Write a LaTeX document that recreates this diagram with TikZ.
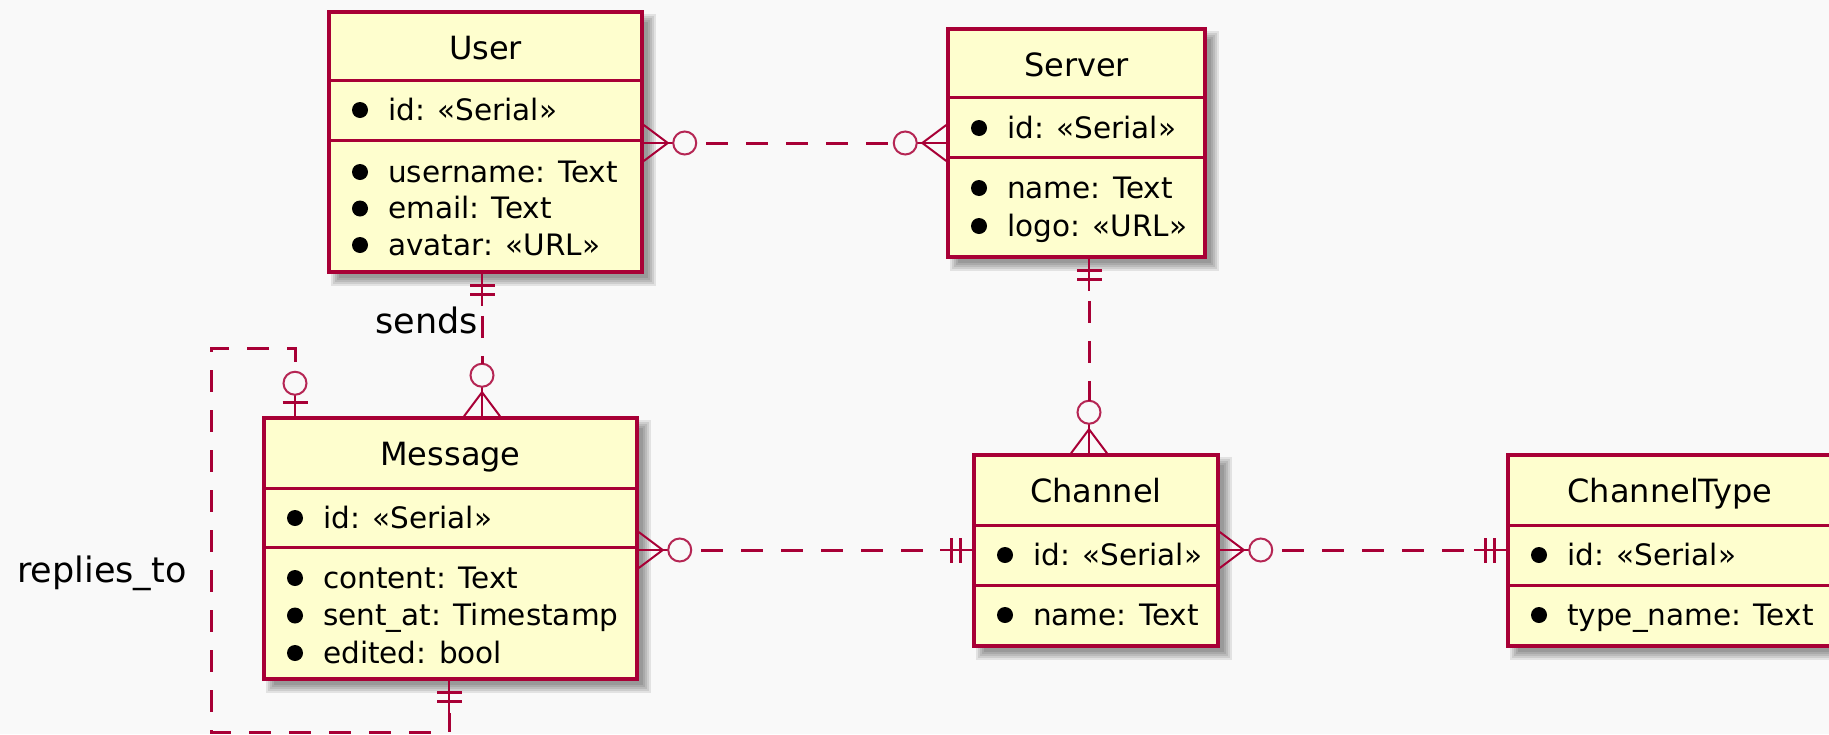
\documentclass[tikz,border=0pt]{standalone}
\usepackage{fontspec}
\setmainfont{DejaVu Sans}
\usetikzlibrary{calc}

\definecolor{erborder}{HTML}{A80036}
\definecolor{erfill}{HTML}{FEFECE}
\definecolor{erbg}{HTML}{F9F9F9}

\tikzset{
  box/.style={draw=erborder, fill=erfill, line width=3.5pt, inner sep=0pt},
  sep/.style={draw=erborder, line width=3pt},
  ttl/.style={anchor=base, inner sep=0pt, font=\fontsize{32}{38}\selectfont},
  row/.style={anchor=base west, inner sep=0pt, font=\fontsize{29.5}{37}\selectfont},
  lbl/.style={inner sep=0pt, font=\fontsize{35}{40}\selectfont},
  rel/.style={draw=erborder, line width=3pt, dash pattern=on 22pt off 18pt, dash phase=30pt},
  stub/.style={draw=erborder, line width=2.6pt},
  crow/.style={draw=erborder, line width=2pt},
  ring/.style={draw=erborder!85, line width=2pt},
  tick/.style={draw=erborder, line width=3pt},
}

% entity box: name, left, top, right, bottom, first separator, second separator, title
\newcommand\entity[8]{%
  \foreach \k in {-6,-4,-2,0,2}
    \fill[black, opacity=0.09] ({#2+8+\k},{#3+8+\k}) rectangle ({#4+8-\k},{#5+8-\k});
  \node[box, minimum width={(#4-#2)*1pt}, minimum height={(#5-#3)*1pt}]
    (#1) at ({(#2+#4)/2},{(#3+#5)/2}) {};
  \draw[sep] (#2,#6) -- (#4,#6);
  \draw[sep] (#2,#7) -- (#4,#7);
  \node[ttl] (#1-title) at ({(#2+#4)/2},{#3+47}) {#8};
}

% attribute line: node name, box left edge, baseline, text
\newcommand\attr[4]{%
  \fill ({#2+31},{#3-10}) circle (8pt);
  \node[row] (#1) at ({#2+59},#3) {#4};
}

% relation ends; #1 point on the box edge, #2 outward angle, #3 name of the outer end
\newcommand\zeromany[3]{%
  \begin{scope}[shift={#1}, rotate=#2]
    \draw[stub] (0,0) -- (29.5,0);
    \draw[crow] (0,18) -- (24,0) -- (0,-18);
    \draw[ring] (41,0) circle (11.5pt);
    \coordinate (#3) at (52.5,0);
  \end{scope}}
\newcommand\exactlyone[3]{%
  \begin{scope}[shift={#1}, rotate=#2]
    \draw[stub] (0,0) -- (32,0);
    \draw[tick] (12,-12.5) -- (12,12.5);
    \draw[tick] (21,-12.5) -- (21,12.5);
    \coordinate (#3) at (32,0);
  \end{scope}}
\newcommand\zeroone[3]{%
  \begin{scope}[shift={#1}, rotate=#2]
    \draw[stub] (0,0) -- (21.5,0);
    \draw[tick] (14,-12.5) -- (14,12.5);
    \draw[ring] (33,0) circle (11.5pt);
    \coordinate (#3) at (44.5,0);
  \end{scope}}

\begin{document}
\begin{tikzpicture}[x=1pt, y=-1pt]
  \fill[erbg] (0,0) rectangle (1829,734);
  \useasboundingbox (0,0) rectangle (1829,734);

  % entities
  \entity{user}{329}{12}{642}{272}{80}{140}{User}
  \attr{user-id}{329}{120}{id: «Serial»}
  \attr{user-username}{329}{182}{username: Text}
  \attr{user-email}{329}{218.5}{email: Text}
  \attr{user-avatar}{329}{255}{avatar: «URL»}

  \entity{server}{948}{29}{1205}{257}{97}{157}{Server}
  \attr{server-id}{948}{138}{id: «Serial»}
  \attr{server-name}{948}{198}{name: Text}
  \attr{server-logo}{948}{236}{logo: «URL»}

  \entity{message}{264}{418}{637}{679}{488}{547}{Message}
  \attr{message-id}{264}{528}{id: «Serial»}
  \attr{message-content}{264}{588}{content: Text}
  \attr{message-sent}{264}{625.5}{sent\_at: Timestamp}
  \attr{message-edited}{264}{663}{edited: bool}

  \entity{channel}{974}{455}{1218}{646}{525}{585}{Channel}
  \attr{channel-id}{974}{565}{id: «Serial»}
  \attr{channel-name}{974}{625}{name: Text}

  \entity{ctype}{1508}{455}{1832}{646}{525}{585}{ChannelType}
  \attr{ctype-id}{1508}{565}{id: «Serial»}
  \attr{ctype-name}{1508}{625}{type\_name: Text}

  % User }o--o{ Server
  \zeromany{(user.east |- 0,143)}{0}{us-a}
  \zeromany{(server.west |- 0,143)}{180}{us-b}
  \draw[rel] (us-a) -- (us-b);

  % User ||--o{ Message : sends
  \exactlyone{(user.south -| 482,0)}{-90}{um-a}
  \zeromany{(message.north -| 482,0)}{90}{um-b}
  \draw[rel] (um-a) -- (um-b);
  \node[lbl, anchor=base east] (sends) at (478,333) {sends};

  % Message |o--|| Message : replies_to
  \zeroone{(message.north -| 295,0)}{90}{mm-a}
  \exactlyone{(message.south -| 449,0)}{-90}{mm-b}
  \coordinate (mm-1) at (295,348);
  \coordinate (mm-2) at (211,348);
  \coordinate (mm-3) at (211,732);
  \coordinate (mm-4) at (449,732);
  \draw[rel] (mm-a) -- (mm-1) -- (mm-2) -- (mm-3) -- (mm-4) -- (mm-b);
  \node[lbl, anchor=base west] (replies) at (17,582) {replies\_to};

  % Server ||--o{ Channel
  \exactlyone{(server.south -| 1089,0)}{-90}{sc-a}
  \zeromany{(channel.north -| 1089,0)}{90}{sc-b}
  \draw[rel] (sc-a) -- (sc-b);

  % Message }o--|| Channel
  \zeromany{(message.east |- 0,550)}{0}{mc-a}
  \exactlyone{(channel.west |- 0,550)}{180}{mc-b}
  \draw[rel] (mc-a) -- (mc-b);

  % Channel }o--|| ChannelType
  \zeromany{(channel.east |- 0,550)}{0}{ct-a}
  \exactlyone{(ctype.west |- 0,550)}{180}{ct-b}
  \draw[rel] (ct-a) -- (ct-b);
\end{tikzpicture}
\end{document}
